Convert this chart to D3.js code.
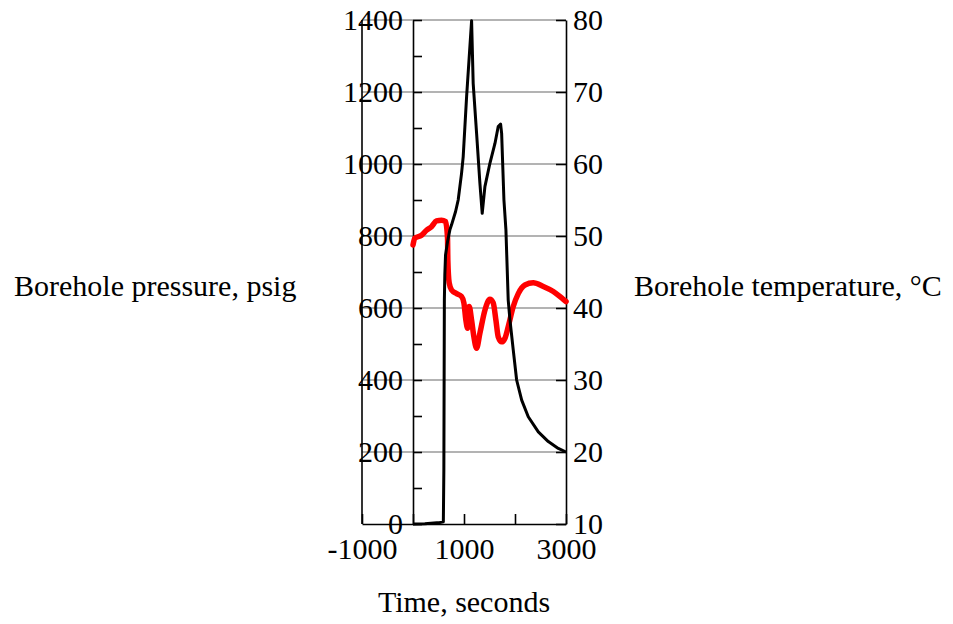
<!DOCTYPE html>
<html>
<head>
<meta charset="utf-8">
<script src="https://cdn.jsdelivr.net/npm/d3@7"></script>
<style>
  html, body { margin: 0; padding: 0; background: #fff; }
  svg { display: block; font-family: "Liberation Serif", "Times New Roman", serif; }
</style>
</head>
<body>
<svg id="chart" width="953" height="624"></svg>
<script>
// Borehole pressure (psig) over time (s)
const pressureTime = [0, 232, 526, 595, 605, 615, 624, 638, 677, 723, 756, 835, 886, 952, 984, 1051, 1149,
  1180, 1247, 1312, 1357, 1410, 1508, 1607, 1671, 1718, 1738, 1783, 1822, 1867, 1901, 1966, 2032,
  2131, 2260, 2457, 2653, 2849, 3000];
const pressurePsig = [0, 1, 4, 6, 150, 622, 692, 747, 784, 817, 831, 868, 900, 974, 1020, 1187, 1398,
  1224, 1085, 946, 863, 937, 1002, 1057, 1104, 1111, 1085, 900, 817, 622, 567, 483, 400,
  344, 298, 256, 229, 210, 200];

// Borehole temperature (°C) over time (s)
const tempTime = [0, 35, 167, 265, 363, 461, 560, 638, 677, 683, 709, 756, 854, 952, 998, 1037, 1070,
  1102, 1149, 1194, 1247, 1312, 1410, 1508, 1573, 1626, 1671, 1738, 1803, 1867, 1966, 2064,
  2195, 2358, 2555, 2751, 2947, 3000];
const tempC = [48.75, 49.7, 50.1, 50.8, 51.3, 52.1, 52.2, 52.0, 49.7, 46.7, 43.5, 42.5, 42.0, 41.6, 40.7, 38.3, 37.2,
  40.2, 38.3, 36.0, 34.4, 36.5, 39.7, 41.2, 40.7, 38.3, 36.0, 35.3, 35.8, 37.4, 40.2, 42.0,
  43.2, 43.5, 43.0, 42.3, 41.2, 40.9];

// Axis ticks and labels
const xTicks = [-1000, 0, 1000, 2000, 3000];
const xLabels = [-1000, 1000, 3000];
const pressureTicks = d3.range(0, 1401, 100);
const pressureLabels = d3.range(0, 1401, 200);
const tempTicks = d3.range(10, 81, 10);

const xTitle = "Time, seconds";
const leftTitle = "Borehole pressure, psig";
const rightTitle = "Borehole temperature, \u00B0C";

const svg = d3.select("#chart");
const fontSize = 30;

const x = d3.scaleLinear().domain([-1000, 3000]).range([362, 566]);
const yP = d3.scaleLinear().domain([0, 1400]).range([524, 20]);
const yT = d3.scaleLinear().domain([10, 80]).range([524, 20]);

// Horizontal grid lines every 200 psig
svg.append("g")
  .selectAll("line")
  .data(pressureLabels.filter(v => v > 0))
  .join("line")
  .attr("x1", x(-1000)).attr("x2", x(3000))
  .attr("y1", d => yP(d)).attr("y2", d => yP(d))
  .attr("stroke", "#9a9a9a")
  .attr("stroke-width", 1.6);

// Long vertical line at the left end of the time axis
svg.append("line")
  .attr("x1", x(-1000)).attr("x2", x(-1000))
  .attr("y1", yP(0)).attr("y2", yP(1400))
  .attr("stroke", "#000").attr("stroke-width", 1.6);

// Left pressure axis drawn on the t = 0 frame edge, ticks pointing inward
const leftAxis = d3.axisLeft(yP)
  .tickValues(pressureTicks)
  .tickSize(-9)
  .tickSizeOuter(0)
  .tickPadding(10)
  .tickFormat(d => (d % 200 === 0 ? d3.format("d")(d) : ""));

const gl = svg.append("g")
  .attr("transform", `translate(${x(0)},0)`)
  .call(leftAxis);

// Right temperature axis, ticks pointing inward
const rightAxis = d3.axisRight(yT)
  .tickValues(tempTicks)
  .tickSize(-10)
  .tickSizeOuter(0)
  .tickPadding(7)
  .tickFormat(d3.format("d"));

const gr = svg.append("g")
  .attr("transform", `translate(${x(3000)},0)`)
  .call(rightAxis);

// Bottom time axis
const bottomAxis = d3.axisBottom(x)
  .tickValues(xTicks)
  .tickSize(-10)
  .tickSizeOuter(0)
  .tickPadding(14)
  .tickFormat(d => (xLabels.includes(d) ? String(d) : ""));

const gb = svg.append("g")
  .attr("transform", `translate(0,${yP(0)})`)
  .call(bottomAxis);

[gl, gr, gb].forEach(g => {
  g.attr("font-family", null).attr("font-size", null);
  g.selectAll(".domain").attr("stroke", "#000").attr("stroke-width", 1.6);
  g.selectAll(".tick line").attr("stroke", "#000").attr("stroke-width", 1.6);
  g.selectAll("text")
    .attr("fill", "#000")
    .style("font-family", '"Liberation Serif", "Times New Roman", serif')
    .style("font-size", fontSize + "px");
});

// Temperature trace (red)
const tempLine = d3.line()
  .x((d, i) => x(tempTime[i]))
  .y(d => yT(d))
  .curve(d3.curveMonotoneX);

svg.append("path")
  .datum(tempC)
  .attr("d", tempLine)
  .attr("fill", "none")
  .attr("stroke", "#ff0000")
  .attr("stroke-width", 5.5)
  .attr("stroke-linejoin", "round")
  .attr("stroke-linecap", "round");

// Pressure trace (black)
const pressLine = d3.line()
  .x((d, i) => x(pressureTime[i]))
  .y(d => yP(d));

svg.append("path")
  .datum(pressurePsig)
  .attr("d", pressLine)
  .attr("fill", "none")
  .attr("stroke", "#000")
  .attr("stroke-width", 3)
  .attr("stroke-linejoin", "round");

// Axis titles
svg.append("text")
  .attr("x", 14).attr("y", 296)
  .style("font-size", fontSize + "px")
  .text(leftTitle);

svg.append("text")
  .attr("x", 634).attr("y", 296)
  .style("font-size", fontSize + "px")
  .text(rightTitle);

svg.append("text")
  .attr("x", x(1000)).attr("y", 612)
  .attr("text-anchor", "middle")
  .style("font-size", fontSize + "px")
  .text(xTitle);
</script>
</body>
</html>
